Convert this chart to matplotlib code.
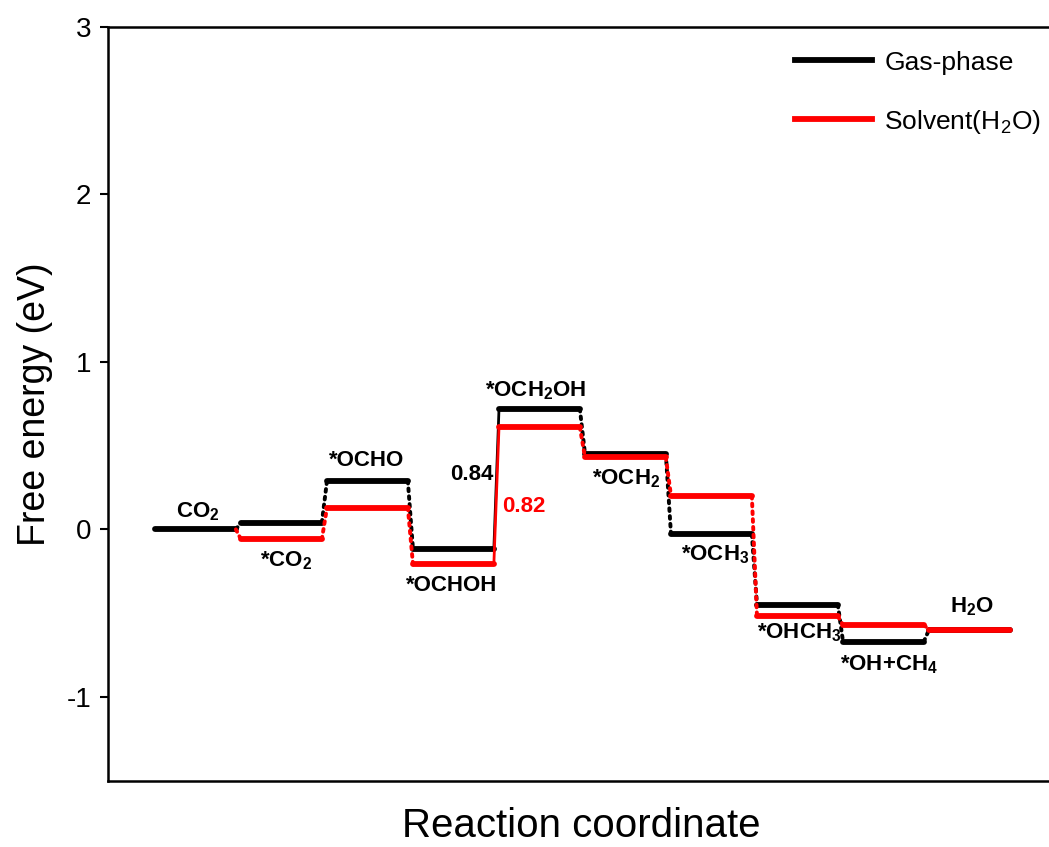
import matplotlib.pyplot as plt

plt.rcParams['font.family'] = ['Liberation Sans', 'DejaVu Sans']
plt.rcParams['mathtext.fontset'] = 'custom'
plt.rcParams['mathtext.rm'] = 'Liberation Sans'
plt.rcParams['mathtext.bf'] = 'Liberation Sans:bold'
plt.rcParams['axes.unicode_minus'] = False

# energias (eV) de cada intermediario
species = ["CO$_\\mathbf{2}$", "*CO$_\\mathbf{2}$", "*OCHO", "*OCHOH", "*OCH$_\\mathbf{2}$OH",
           "*OCH$_\\mathbf{2}$", "*OCH$_\\mathbf{3}$", "*OHCH$_\\mathbf{3}$",
           "*OH+CH$_\\mathbf{4}$", "H$_\\mathbf{2}$O"]
gas = [0.0, 0.04, 0.29, -0.12, 0.72, 0.45, -0.03, -0.45, -0.67, -0.60]
solv = [0.0, -0.06, 0.13, -0.21, 0.61, 0.43, 0.20, -0.52, -0.57, -0.60]
barrier_gas = "0.84"
barrier_solv = "0.82"

W = 0.94  # largura de cada patamar

fig = plt.figure(figsize=(10.49, 8.47), dpi=100)
ax = fig.add_axes([108 / 1049, 1 - 780.5 / 847, 946 / 1049, 753.5 / 847])


def draw(vals, color, z, skip_first=False):
    for i, v in enumerate(vals):
        if not (skip_first and i == 0):
            ax.plot([i, i + W], [v, v], color=color, lw=4.2, solid_capstyle='round', zorder=z)
        if i < len(vals) - 1:
            ls = '-' if i == 3 else (0, (0.7, 1.3))
            lw = 2.0 if i == 3 else 2.8
            ax.plot([i + W, i + 1], [v, vals[i + 1]], color=color, lw=lw, ls=ls,
                    dash_capstyle='round', zorder=z)


draw(gas, 'black', 3)
draw(solv, 'red', 4, skip_first=True)

# legenda manual
ax.plot([], [], color='black', lw=4.2, label='Gas-phase')
ax.plot([], [], color='red', lw=4.2, label='Solvent(H$_2$O)')
leg = ax.legend(loc='upper left', bbox_to_anchor=(784 / 1049, 1 - 40 / 847),
                bbox_transform=fig.transFigure, borderaxespad=0, frameon=False,
                fontsize=19, handlelength=2.95, handletextpad=0.45, labelspacing=1.25)

# rotulos dos intermediarios
label_pos = [(0.5, 0.04, 'bottom'), (1.52, -0.12, 'top'), (2.46, 0.35, 'bottom'),
             (3.45, -0.27, 'top'), (4.43, 0.76, 'bottom'), (5.48, 0.37, 'top'),
             (6.51, -0.085, 'top'), (7.49, -0.55, 'top'), (8.53, -0.74, 'top'),
             (9.5, -0.53, 'bottom')]
for name, (x, y, va) in zip(species, label_pos):
    ax.text(x, y, name, ha='center', va=va, fontsize=16, fontweight='bold')

ax.text(3.68, 0.33, barrier_gas, ha='center', va='center', fontsize=16,
        fontweight='bold', color='black')
ax.text(4.29, 0.137, barrier_solv, ha='center', va='center', fontsize=16,
        fontweight='bold', color='red')

ax.set_xlim((108 - 155) / 86, (108 + 946 - 155) / 86)
ax.set_ylim(-1.5, 3)
ax.set_yticks([-1, 0, 1, 2, 3])
ax.set_xticks([])
ax.tick_params(axis='y', direction='out', length=6, width=1.5, labelsize=20, pad=6)
for s in ax.spines.values():
    s.set_linewidth(1.8)
ax.set_ylabel("Free energy (eV)", fontsize=27, labelpad=10)
ax.set_xlabel("Reaction coordinate", fontsize=29, labelpad=19)

fig.savefig("out.png", dpi=100)
